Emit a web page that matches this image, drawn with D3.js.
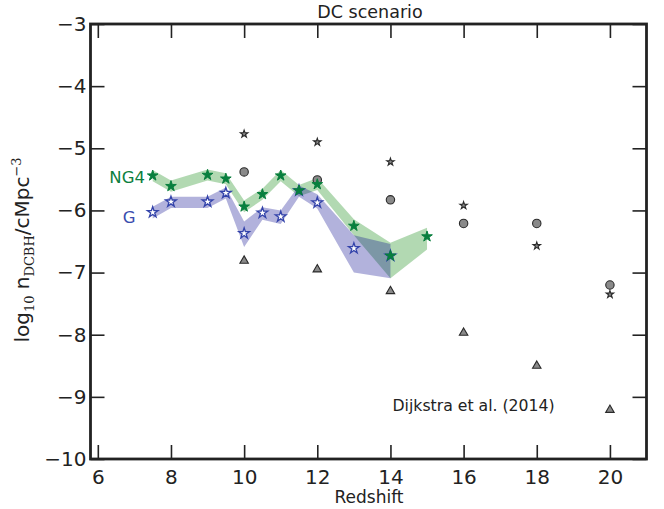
<!DOCTYPE html>
<html>
<head>
<meta charset="utf-8">
<script src="https://cdn.jsdelivr.net/npm/d3@7/dist/d3.min.js"></script>
<style>
  html, body { margin: 0; padding: 0; background: #fff; }
  svg { display: block; }
  text { font-family: "DejaVu Sans", sans-serif; fill: #222; }
</style>
</head>
<body>
<svg id="chart" width="664" height="509"></svg>
<script>
// Number density of direct-collapse black holes versus redshift, DC scenario.

// NG4 run: median and band limits
const zNG4 = [7.5, 8, 9, 9.5, 10, 10.5, 11, 11.5, 12, 13, 14, 15];
const ng4 = [-5.44, -5.61, -5.43, -5.49, -5.94, -5.74, -5.44, -5.68, -5.58, -6.25, -6.73, -6.42];
const ng4Hi = [-5.35, -5.52, -5.34, -5.40, -5.84, -5.65, -5.35, -5.59, -5.48, -6.14, -6.52, -6.28];
const ng4Lo = [-5.53, -5.70, -5.52, -5.58, -6.03, -5.83, -5.53, -5.77, -5.67, -6.40, -7.09, -6.63];

// G run: median and band limits
const zG = [7.5, 8, 9, 9.5, 10, 10.5, 11, 11.5, 12, 13, 14];
const gVal = [-6.03, -5.86, -5.86, -5.72, -6.37, -6.04, -6.10, -5.68, -5.875, -6.61, -6.73];
const gHi = [-5.94, -5.78, -5.78, -5.63, -6.18, -5.95, -6.00, -5.60, -5.74, -6.40, -6.54];
const gLo = [-6.13, -5.96, -5.96, -5.81, -6.59, -6.15, -6.22, -5.78, -5.97, -7.00, -7.09];

// Dijkstra et al. (2014) comparison points
const zDijkstra = [10, 12, 14, 16, 18, 20];
const dijkstraStar = [-4.77, -4.90, -5.22, -5.92, -6.57, -7.35];
const dijkstraCircle = [-5.38, -5.51, -5.83, -6.21, -6.21, -7.20];
const dijkstraTriangle = [-6.81, -6.95, -7.30, -7.97, -8.50, -9.21];

// Axis ticks
const xTicks = [6, 8, 10, 12, 14, 16, 18, 20];
const yTicks = [-10, -9, -8, -7, -6, -5, -4, -3];

const svg = d3.select("#chart");
const L = 90.5, R = 646.5, T = 24, B = 459;

const x = d3.scaleLinear().domain([5.8, 21]).range([L, R]);
const y = d3.scaleLinear().domain([-10, -3]).range([B, T]);

const greenBand = "rgba(0,128,0,0.3)";
const blueBand = "rgba(0,0,139,0.3)";
const greenStar = "#087f3e";
const blueStar = "#3343aa";

// Shaded ranges
const area = d3.area()
  .x(d => x(d.z))
  .y0(d => y(d.lo))
  .y1(d => y(d.hi));

const ng4Rows = zNG4.map((z, i) => ({ z, v: ng4[i], lo: ng4Lo[i], hi: ng4Hi[i] }));
const gRows = zG.map((z, i) => ({ z, v: gVal[i], lo: gLo[i], hi: gHi[i] }));

svg.append("path").datum(ng4Rows).attr("d", area).attr("fill", greenBand);
svg.append("path").datum(gRows).attr("d", area).attr("fill", blueBand);

// Comparison markers
const sym = d3.symbol();
const gray = "#8a8a8a", grayEdge = "#2a2a2a";
const dRows = zDijkstra.map((z, i) => ({ z, s: dijkstraStar[i], c: dijkstraCircle[i], t: dijkstraTriangle[i] }));

svg.append("g").selectAll("path").data(dRows).join("path")
  .attr("transform", d => `translate(${x(d.z)},${y(d.t)})`)
  .attr("d", sym.type(d3.symbolTriangle).size(31)())
  .attr("fill", gray).attr("stroke", grayEdge).attr("stroke-width", 1.1);

svg.append("g").selectAll("path").data(dRows).join("path")
  .attr("transform", d => `translate(${x(d.z)},${y(d.c)})`)
  .attr("d", d3.symbol().type(d3.symbolCircle).size(Math.PI * 4.2 * 4.2)())
  .attr("fill", gray).attr("stroke", grayEdge).attr("stroke-width", 1.1);

svg.append("g").selectAll("path").data(dRows).join("path")
  .attr("transform", d => `translate(${x(d.z)},${y(d.s)})`)
  .attr("d", d3.symbol().type(d3.symbolStar).size(3.9 * 3.9 / 0.8908)())
  .attr("fill", gray).attr("stroke", grayEdge).attr("stroke-width", 1.1);

// Run medians
const bigStar = d3.symbol().type(d3.symbolStar).size(5.6 * 5.6 / 0.8908)();

svg.append("g").selectAll("path").data(gRows).join("path")
  .attr("transform", d => `translate(${x(d.z)},${y(d.v)})`)
  .attr("d", bigStar)
  .attr("fill", "#fff").attr("stroke", blueStar).attr("stroke-width", 1.3);

svg.append("g").selectAll("path").data(ng4Rows).join("path")
  .attr("transform", d => `translate(${x(d.z)},${y(d.v)})`)
  .attr("d", bigStar)
  .attr("fill", greenStar).attr("stroke", greenStar).attr("stroke-width", 1);

// Axes: inward ticks on all four sides
const fmt = d3.format("d");
const axB = svg.append("g").attr("transform", `translate(0,${B})`)
  .call(d3.axisBottom(x).tickValues(xTicks).tickFormat(fmt).tickSize(-14).tickPadding(11));
const axT = svg.append("g").attr("transform", `translate(0,${T})`)
  .call(d3.axisTop(x).tickValues(xTicks).tickFormat("").tickSize(-14));
const axL = svg.append("g").attr("transform", `translate(${L},0)`)
  .call(d3.axisLeft(y).tickValues(yTicks).tickFormat(fmt).tickSize(-14).tickPadding(4));
const axR = svg.append("g").attr("transform", `translate(${R},0)`)
  .call(d3.axisRight(y).tickValues(yTicks).tickFormat("").tickSize(-14));

[axB, axT, axL, axR].forEach(g => {
  g.select(".domain").remove();
  g.selectAll(".tick line").attr("stroke", "#222").attr("stroke-width", 1.6);
  g.selectAll(".tick text").attr("font-family", "DejaVu Sans").attr("font-size", 20).attr("fill", "#222");
});

svg.append("rect")
  .attr("x", L).attr("y", T).attr("width", R - L).attr("height", B - T)
  .attr("fill", "none").attr("stroke", "#222").attr("stroke-width", 2.8);

// Labels
svg.append("text").attr("x", 370).attr("y", 18).attr("text-anchor", "middle")
  .attr("font-size", 17.5).text("DC scenario");

svg.append("text").attr("x", 369).attr("y", 503).attr("text-anchor", "middle")
  .attr("font-size", 17).text("Redshift");

const yl = svg.append("text")
  .attr("transform", "translate(29,250) rotate(-90)")
  .attr("text-anchor", "middle").attr("font-size", 20);
const serif = "DejaVu Serif";
yl.append("tspan").text("log");
yl.append("tspan").attr("dy", 5).attr("font-family", serif).attr("font-size", 13).text("10");
yl.append("tspan").attr("dy", -5).text(" n");
yl.append("tspan").attr("dy", 5).attr("font-family", serif).attr("font-size", 13).text("DCBH");
yl.append("tspan").attr("dy", -5).text("/cMpc");
yl.append("tspan").attr("dy", -8).attr("font-family", serif).attr("font-size", 13).text("\u22123");

svg.append("text").attr("x", 145).attr("y", 183).attr("text-anchor", "end")
  .attr("font-size", 16.5).style("fill", "#0d7f40").text("NG4");
svg.append("text").attr("x", 135.5).attr("y", 223).attr("text-anchor", "end")
  .attr("font-size", 16.5).style("fill", "#3a4cae").text("G");

svg.append("text").attr("x", 392.5).attr("y", 411)
  .attr("font-size", 15.7).text("Dijkstra et al. (2014)");
</script>
</body>
</html>
